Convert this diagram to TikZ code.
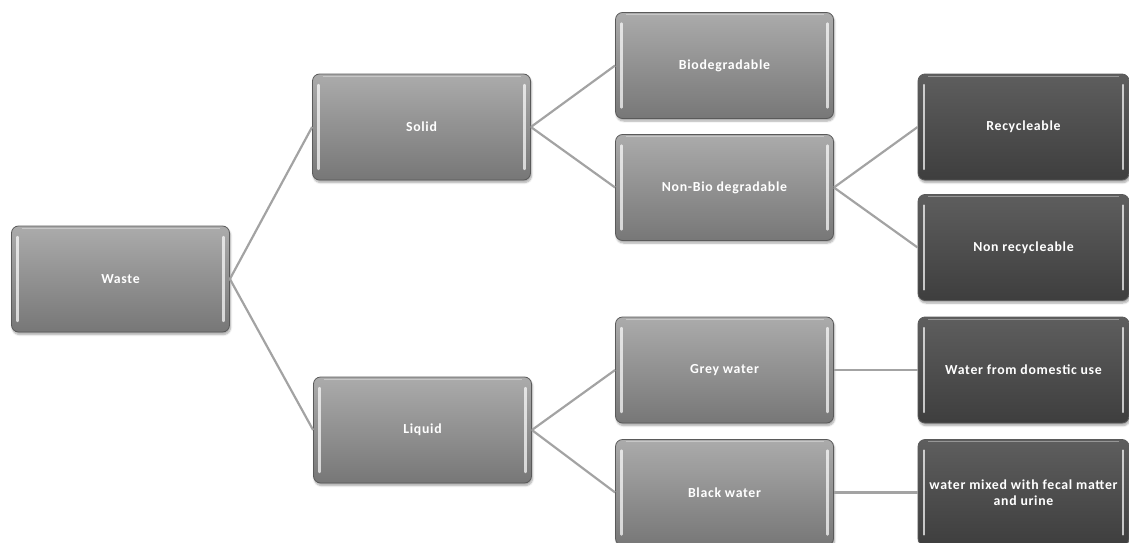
\documentclass[tikz,border=0pt]{standalone}
\usepackage{fontspec}
\setmainfont{Carlito}
\newfontfamily\boxfont[LetterSpace=5]{Carlito}
\usetikzlibrary{shadows.blur}

\definecolor{midtop}{HTML}{ABABAB}
\definecolor{midbot}{HTML}{777777}
\definecolor{darktop}{HTML}{5E5E5E}
\definecolor{darkbot}{HTML}{3E3E3E}
\definecolor{edge}{HTML}{5A5A5A}
\definecolor{linkgray}{HTML}{A3A3A3}

\tikzset{
  wbox/.style={
    rounded corners=7pt, draw=edge, line width=0.8pt,
    minimum height=106pt, inner sep=0pt, align=center,
    text=white, font=\boxfont\bfseries\fontsize{13.8}{16.5}\selectfont,
    blur shadow={shadow xshift=1pt, shadow yshift=-2.5pt, shadow opacity=35, shadow blur steps=6},
    path picture={
      \draw[white, opacity=0.7, line width=2.4pt, line cap=round]
        ([xshift=6pt,yshift=-11pt]path picture bounding box.north west) --
        ([xshift=6pt,yshift=11pt]path picture bounding box.south west);
      \draw[white, opacity=0.7, line width=2.4pt, line cap=round]
        ([xshift=-6pt,yshift=-11pt]path picture bounding box.north east) --
        ([xshift=-6pt,yshift=11pt]path picture bounding box.south east);
      \draw[white, opacity=0.35, line width=1pt]
        ([xshift=10pt,yshift=-2pt]path picture bounding box.north west) --
        ([xshift=-10pt,yshift=-2pt]path picture bounding box.north east);
    }},
  midbox/.style={wbox, minimum width=218pt, top color=midtop, bottom color=midbot},
  darkbox/.style={wbox, minimum width=211pt, top color=darktop, bottom color=darkbot},
  link/.style={draw=linkgray, line width=2.2pt}
}

\begin{document}
\begin{tikzpicture}[x=1pt, y=-1pt]
  \useasboundingbox (0,0) rectangle (1129,543);
  \clip (0,0) rectangle (1129,543);

  % first level
  \node[midbox] (waste) at (120.5,279) {Waste};

  % second level
  \node[midbox] (solid)  at (421.5,127) {Solid};
  \node[midbox] (liquid) at (422.5,430) {Liquid};

  % third level
  \node[midbox] (bio)    at (724.5,65.5)  {Biodegradable};
  \node[midbox] (nonbio) at (724.5,187.5) {Non-Bio degradable};
  \node[midbox] (grey)   at (724.5,370)   {Grey water};
  \node[midbox] (black)  at (724.5,492.5) {Black water};

  % fourth level
  \node[darkbox] (recyc)    at (1023.5,127)   {Recycleable};
  \node[darkbox] (nonrecyc) at (1023.5,247.5) {Non recycleable};
  \node[darkbox] (domestic) at (1023.5,370)   {Water from domestic use};
  \node[darkbox] (fecal)    at (1023.5,492.5) {water mixed with fecal matter\\and urine};

  % connectors
  \draw[link] (waste.east)  -- (solid.west);
  \draw[link] (waste.east)  -- (liquid.west);
  \draw[link] (solid.east)  -- (bio.west);
  \draw[link] (solid.east)  -- (nonbio.west);
  \draw[link] (nonbio.east) -- (recyc.west);
  \draw[link] (nonbio.east) -- (nonrecyc.west);
  \draw[link] (liquid.east) -- (grey.west);
  \draw[link] (liquid.east) -- (black.west);
  \draw[link] (grey.east)   -- (domestic.west);
  \draw[link] (black.east)  -- (fecal.west);
\end{tikzpicture}
\end{document}
